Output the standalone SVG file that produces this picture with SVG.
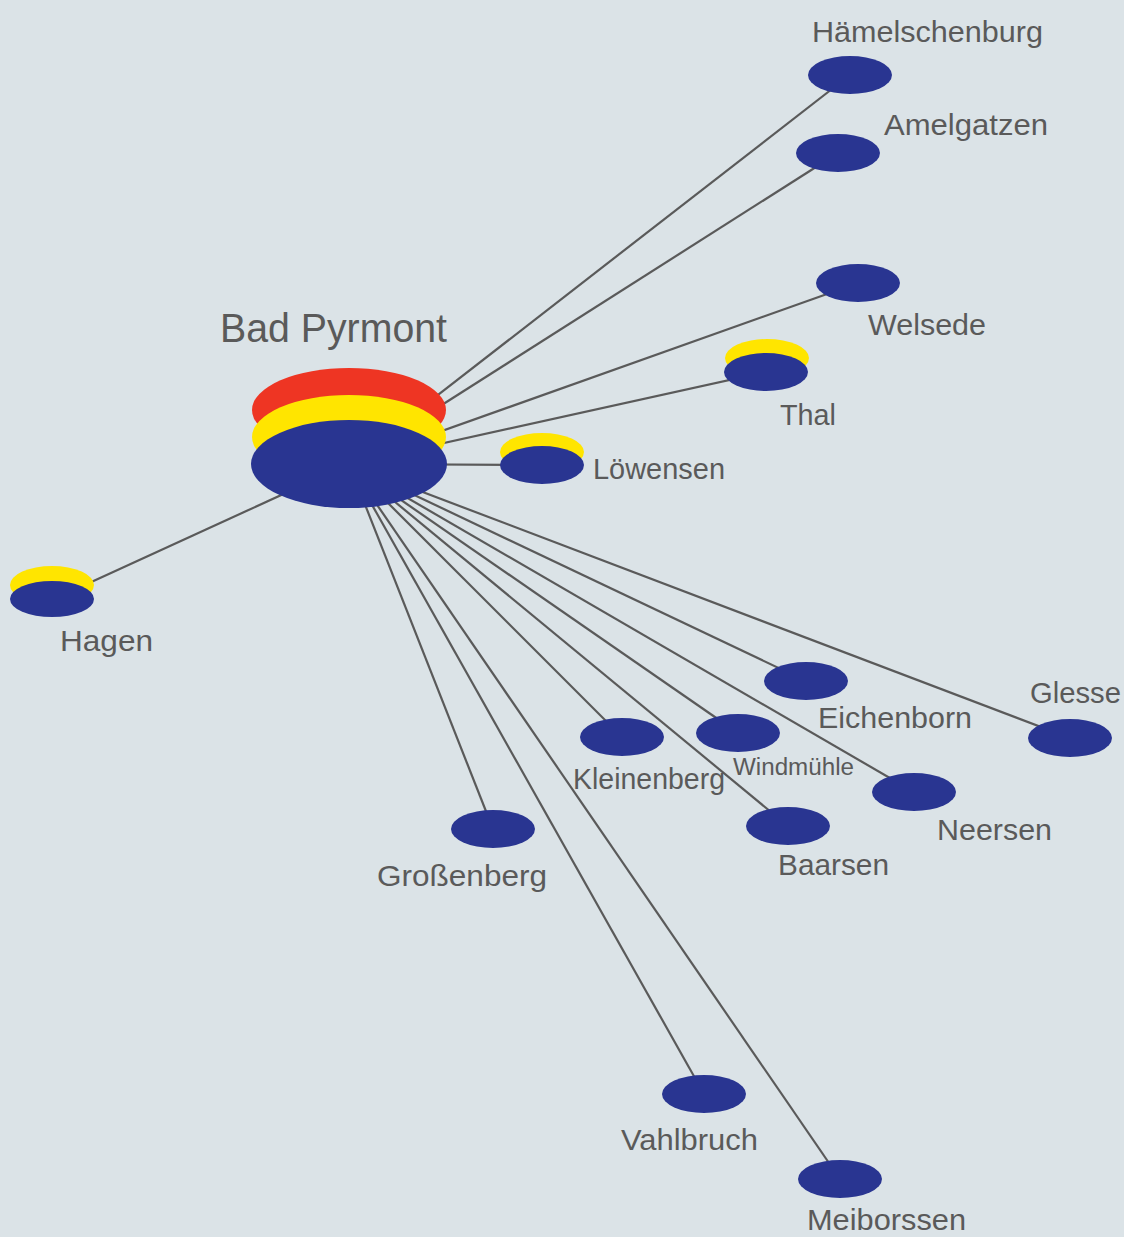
<svg xmlns="http://www.w3.org/2000/svg" width="1124" height="1237" viewBox="0 0 1124 1237">
<style>
.bg{fill:#dbe3e7}
.b{fill:#293591}
.y{fill:#ffe500}
.r{fill:#ee3523}
.e{stroke:#5a5a5a;stroke-width:2.2;fill:none}
text{font-family:"Liberation Sans",Arial,sans-serif;fill:#5a5a5a;font-size:29px}
.big{font-size:40px}
.sm{font-size:23px}
</style>
<rect class="bg" width="1124" height="1237"/>
<g id="connectors">
<line class="e" x1="349" y1="464" x2="850" y2="75"/>
<line class="e" x1="349" y1="464" x2="838" y2="153"/>
<line class="e" x1="349" y1="464" x2="858" y2="283"/>
<line class="e" x1="349" y1="464" x2="766" y2="372"/>
<line class="e" x1="349" y1="464" x2="542" y2="465"/>
<line class="e" x1="349" y1="464" x2="52" y2="600"/>
<line class="e" x1="349" y1="464" x2="1070" y2="738"/>
<line class="e" x1="349" y1="464" x2="806" y2="681"/>
<line class="e" x1="349" y1="464" x2="914" y2="792"/>
<line class="e" x1="349" y1="464" x2="738" y2="733"/>
<line class="e" x1="349" y1="464" x2="788" y2="826"/>
<line class="e" x1="349" y1="464" x2="622" y2="737"/>
<line class="e" x1="349" y1="464" x2="840" y2="1179"/>
<line class="e" x1="349" y1="464" x2="704" y2="1094"/>
<line class="e" x1="349" y1="464" x2="493" y2="829"/>
</g>
<g id="bad-pyrmont">
<ellipse class="r" cx="349" cy="410" rx="97" ry="42"/>
<ellipse class="y" cx="349" cy="437" rx="97" ry="42"/>
<ellipse class="b" cx="349" cy="464" rx="98" ry="44"/>
<text class="big" x="220" y="342" textLength="227" lengthAdjust="spacingAndGlyphs">Bad Pyrmont</text>
</g>
<g id="haemelschenburg">
<ellipse class="b" cx="850" cy="75" rx="42" ry="19"/>
<text x="812" y="42" textLength="231" lengthAdjust="spacingAndGlyphs">Hämelschenburg</text>
</g>
<g id="amelgatzen">
<ellipse class="b" cx="838" cy="153" rx="42" ry="19"/>
<text x="884" y="135" textLength="164" lengthAdjust="spacingAndGlyphs">Amelgatzen</text>
</g>
<g id="welsede">
<ellipse class="b" cx="858" cy="283" rx="42" ry="19"/>
<text x="868" y="335" textLength="118" lengthAdjust="spacingAndGlyphs">Welsede</text>
</g>
<g id="thal">
<ellipse class="y" cx="767" cy="358" rx="42" ry="19"/>
<ellipse class="b" cx="766" cy="372" rx="42" ry="19"/>
<text x="780" y="425" textLength="56" lengthAdjust="spacingAndGlyphs">Thal</text>
</g>
<g id="loewensen">
<ellipse class="y" cx="542" cy="452" rx="42" ry="19"/>
<ellipse class="b" cx="542" cy="465" rx="42" ry="19"/>
<text x="593" y="479" textLength="132" lengthAdjust="spacingAndGlyphs">Löwensen</text>
</g>
<g id="hagen">
<ellipse class="y" cx="52" cy="585" rx="42" ry="19"/>
<ellipse class="b" cx="52" cy="599" rx="42" ry="18"/>
<text x="60" y="651" textLength="93" lengthAdjust="spacingAndGlyphs">Hagen</text>
</g>
<g id="glesse">
<ellipse class="b" cx="1070" cy="738" rx="42" ry="19"/>
<text x="1030" y="703" textLength="91" lengthAdjust="spacingAndGlyphs">Glesse</text>
</g>
<g id="eichenborn">
<ellipse class="b" cx="806" cy="681" rx="42" ry="19"/>
<text x="818" y="728" textLength="154" lengthAdjust="spacingAndGlyphs">Eichenborn</text>
</g>
<g id="kleinenberg">
<ellipse class="b" cx="622" cy="737" rx="42" ry="19"/>
<text x="573" y="789" textLength="152" lengthAdjust="spacingAndGlyphs">Kleinenberg</text>
</g>
<g id="windmuehle">
<ellipse class="b" cx="738" cy="733" rx="42" ry="19"/>
<text class="sm" x="733" y="775" textLength="121" lengthAdjust="spacingAndGlyphs">Windmühle</text>
</g>
<g id="neersen">
<ellipse class="b" cx="914" cy="792" rx="42" ry="19"/>
<text x="937" y="840" textLength="115" lengthAdjust="spacingAndGlyphs">Neersen</text>
</g>
<g id="baarsen">
<ellipse class="b" cx="788" cy="826" rx="42" ry="19"/>
<text x="778" y="875" textLength="111" lengthAdjust="spacingAndGlyphs">Baarsen</text>
</g>
<g id="grossenberg">
<ellipse class="b" cx="493" cy="829" rx="42" ry="19"/>
<text x="377" y="886" textLength="170" lengthAdjust="spacingAndGlyphs">Großenberg</text>
</g>
<g id="vahlbruch">
<ellipse class="b" cx="704" cy="1094" rx="42" ry="19"/>
<text x="621" y="1150" textLength="137" lengthAdjust="spacingAndGlyphs">Vahlbruch</text>
</g>
<g id="meiborssen">
<ellipse class="b" cx="840" cy="1179" rx="42" ry="19"/>
<text x="807" y="1230" textLength="159" lengthAdjust="spacingAndGlyphs">Meiborssen</text>
</g>
</svg>
